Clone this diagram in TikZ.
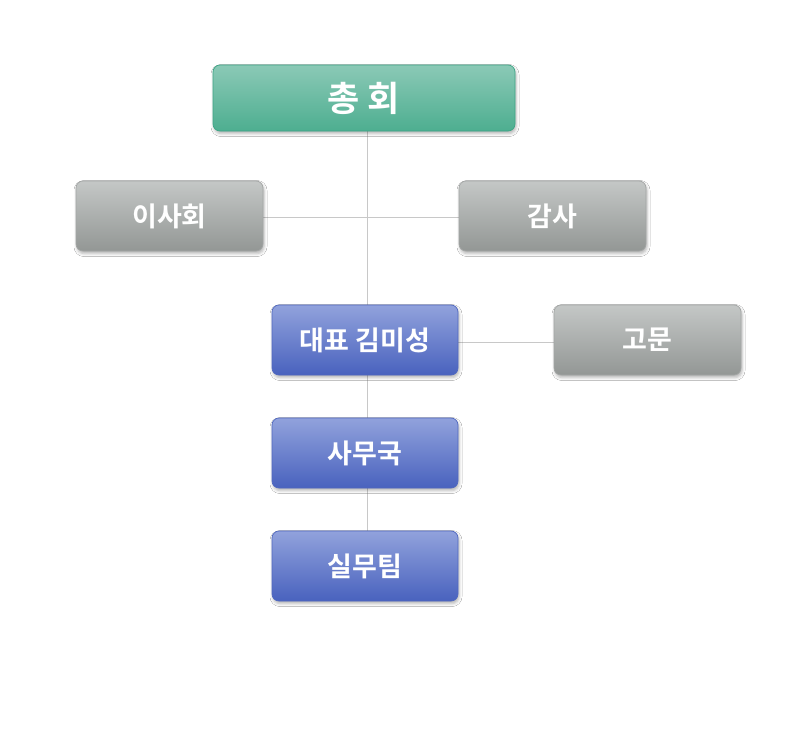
\documentclass[tikz,border=0pt]{standalone}
\usepackage{fontspec}
\newfontfamily\kr{Noto Sans CJK KR}[BoldFont={* Bold}]
\usetikzlibrary{shadows,shadows.blur}
\definecolor{gtop}{HTML}{8BC9B6}
\definecolor{gbot}{HTML}{4DAE90}
\definecolor{gbrd}{HTML}{3DA586}
\definecolor{ytop}{HTML}{C4C7C6}
\definecolor{ybot}{HTML}{939795}
\definecolor{ybrd}{HTML}{A3A6A5}
\definecolor{btop}{HTML}{91A2DC}
\definecolor{bbot}{HTML}{4962BE}
\definecolor{bbrd}{HTML}{5068C0}
\definecolor{lnc}{HTML}{C8C8C8}
\tikzset{
  box/.style={rectangle, rounded corners=7pt, line width=0.7pt, text=white,
    font=\kr\bfseries\fontsize{27}{31}\selectfont,
    blur shadow={shadow xshift=1pt, shadow yshift=-2.5pt, shadow blur radius=3pt, shadow opacity=30}},
  greenbox/.style={box, draw=gbrd, top color=gtop, bottom color=gbot},
  graybox/.style={box, draw=ybrd, top color=ytop, bottom color=ybot},
  bluebox/.style={box, draw=bbrd, top color=btop, bottom color=bbot},
  conn/.style={draw=lnc, line width=0.9pt}
}
\begin{document}
\begin{tikzpicture}[x=1pt,y=-1pt]
\useasboundingbox[fill=white] (0,0) rectangle (800,750);
% connectors first (behind boxes)
\coordinate (vtop) at (367,131);
\coordinate (vbot) at (367,531);
\coordinate (hl) at (263,217);
\coordinate (hr) at (459,217);
\coordinate (cl) at (458,342);
\coordinate (cr) at (554,342);
\draw[conn] (vtop) -- (vbot);
\draw[conn] (hl) -- (hr);
\draw[conn] (cl) -- (cr);
\node[greenbox, minimum width=302pt, minimum height=66pt, font=\kr\bfseries\fontsize{35}{40}\selectfont] (a) at (364,98) {총 회};
\node[graybox, minimum width=187pt, minimum height=70pt] (b) at (169.5,216) {이사회};
\node[graybox, minimum width=187pt, minimum height=70pt] (c) at (552.5,216) {감사};
\node[bluebox, minimum width=186pt, minimum height=70pt] (d) at (365,340) {대표 김미성};
\node[graybox, minimum width=187pt, minimum height=70pt] (e) at (647.5,340) {고문};
\node[bluebox, minimum width=186pt, minimum height=70pt] (f) at (365,453) {사무국};
\node[bluebox, minimum width=186pt, minimum height=70pt] (g) at (365,566) {실무팀};
\end{tikzpicture}
\end{document}
